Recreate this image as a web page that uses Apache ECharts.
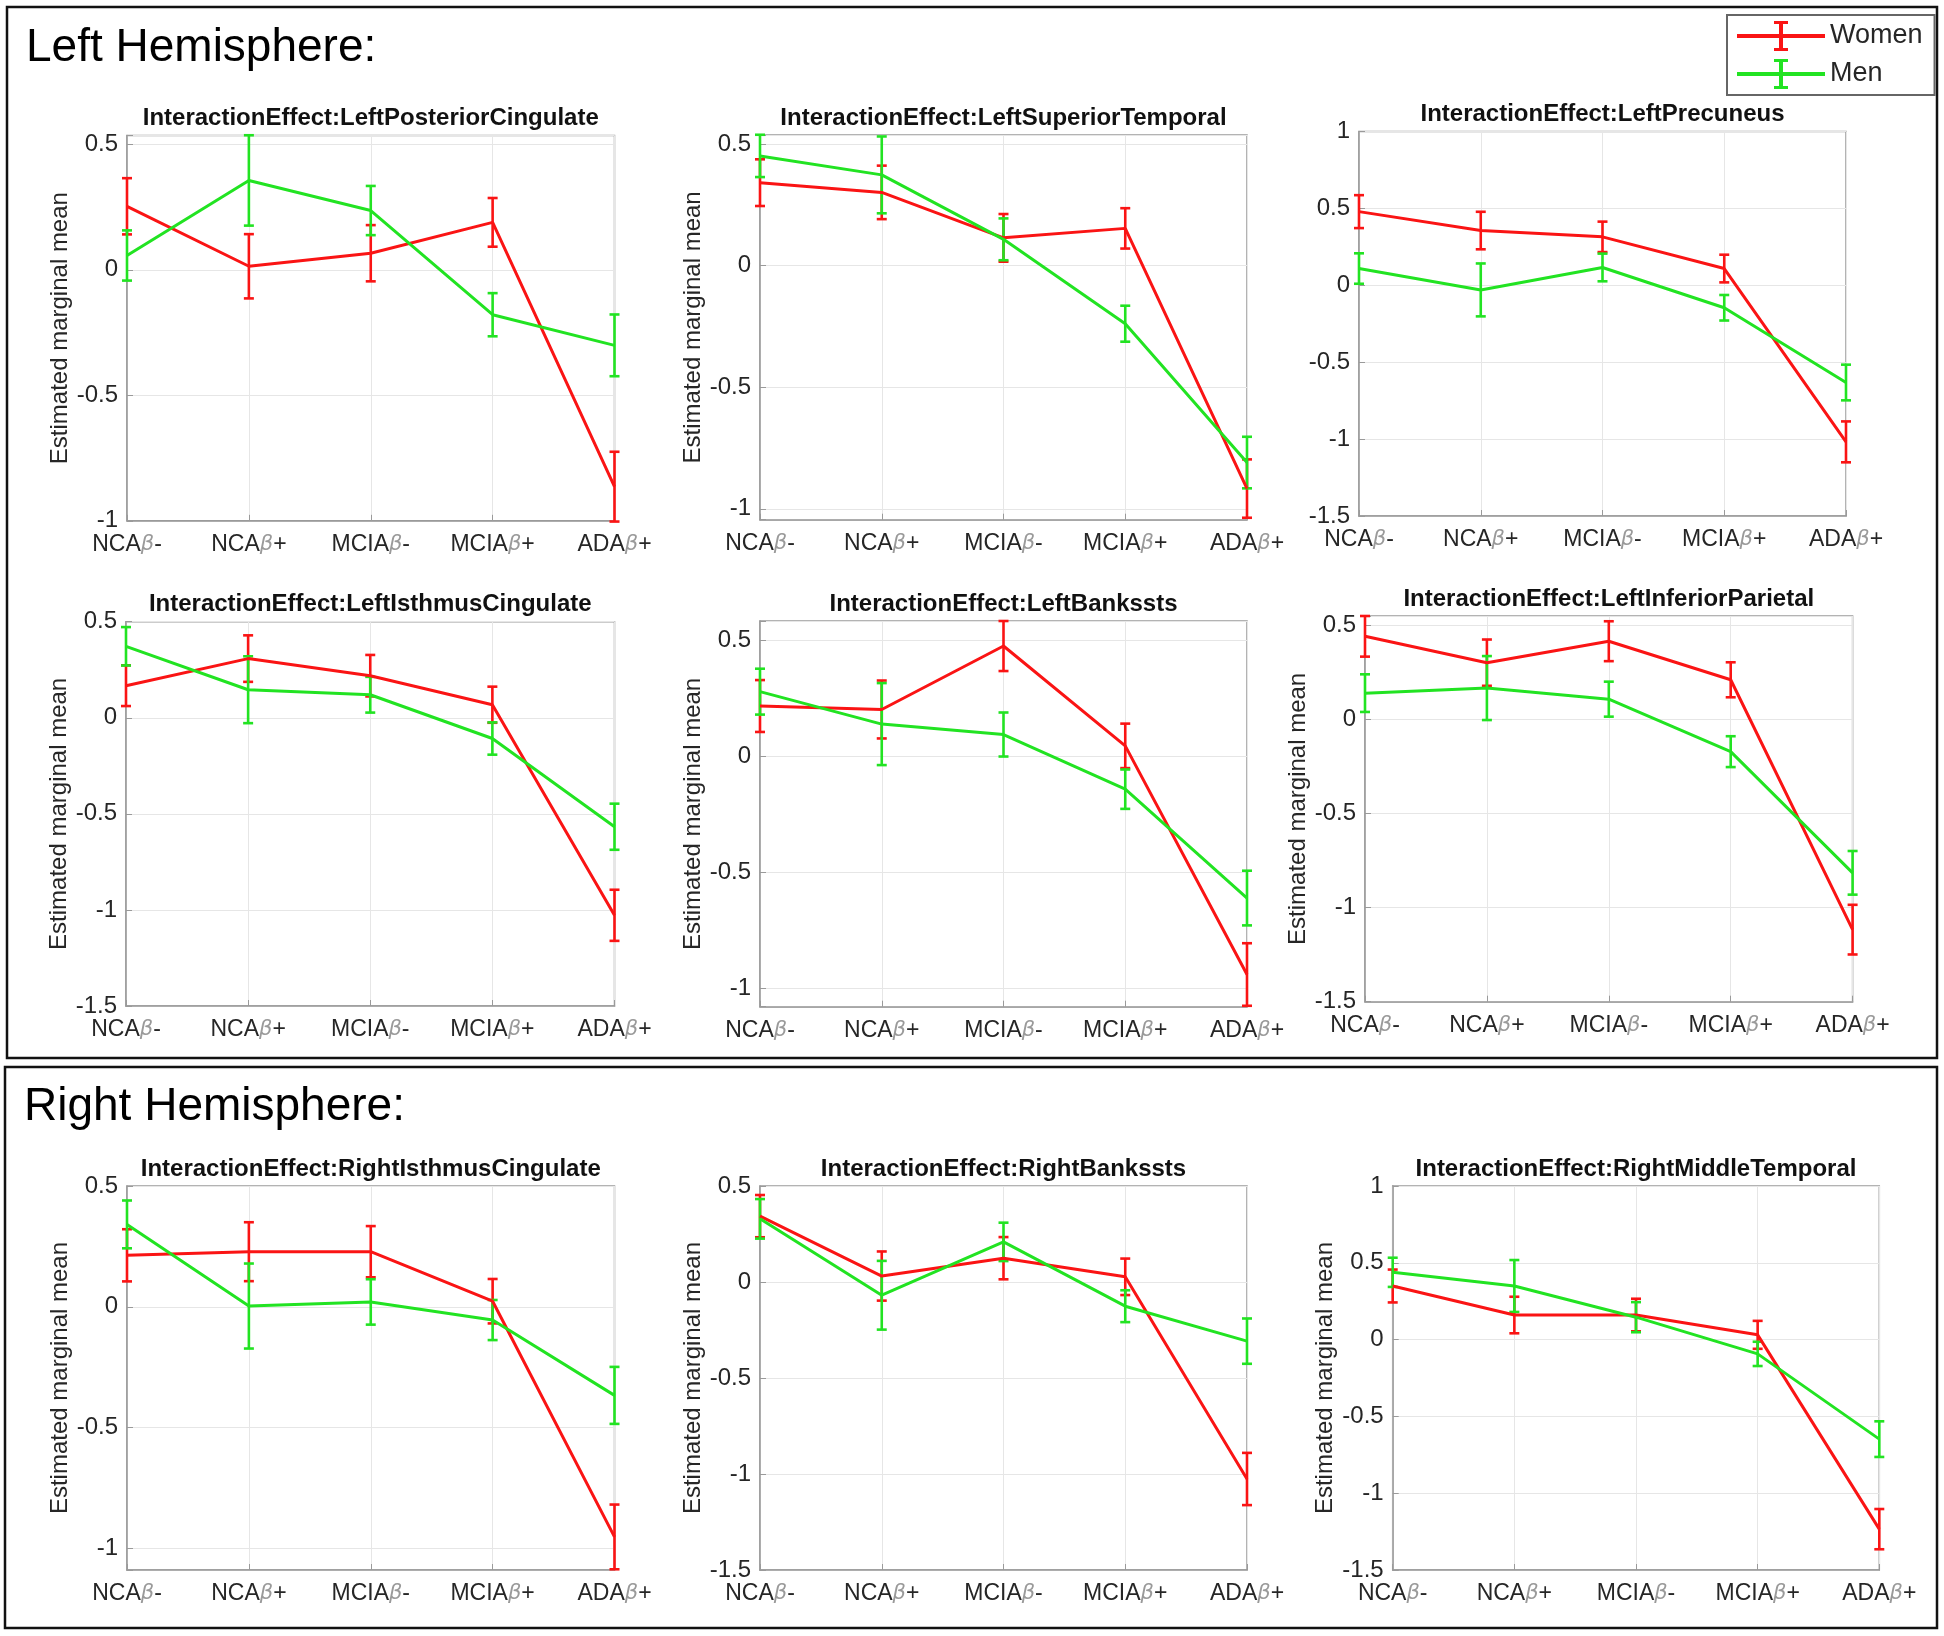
<!DOCTYPE html>
<html>
<head>
<meta charset="utf-8">
<script src="https://cdn.jsdelivr.net/npm/echarts@6/dist/echarts.min.js"></script>
<style>
  html, body { margin: 0; padding: 0; background: #fff; }
  #main { width: 1944px; height: 1636px; }
</style>
</head>
<body>
<div id="main"></div>
<script>
// groups on the x axis
var groups = ['NCAβ-', 'NCAβ+', 'MCIAβ-', 'MCIAβ+', 'ADAβ+'];
var seriesNames = ['Women', 'Men'];

// panel titles
var regions = [
  'InteractionEffect:LeftPosteriorCingulate',
  'InteractionEffect:LeftSuperiorTemporal',
  'InteractionEffect:LeftPrecuneus',
  'InteractionEffect:LeftIsthmusCingulate',
  'InteractionEffect:LeftBankssts',
  'InteractionEffect:LeftInferiorParietal',
  'InteractionEffect:RightIsthmusCingulate',
  'InteractionEffect:RightBankssts',
  'InteractionEffect:RightMiddleTemporal'
];

// y axis limits of each panel
var yMins = [-1, -1.045, -1.5, -1.5, -1.08, -1.5, -1.09, -1.5, -1.5];
var yMaxs = [0.535, 0.537, 1, 0.5, 0.585, 0.55, 0.5, 0.5, 1];

// estimated marginal means (and error bar half widths)
var lpcWomen = [0.253, 0.014, 0.066, 0.189, -0.864];
var lpcWomenErr = [0.112, 0.128, 0.112, 0.097, 0.139];
var lpcMen = [0.057, 0.356, 0.236, -0.179, -0.301];
var lpcMenErr = [0.100, 0.180, 0.098, 0.086, 0.123];

var lstWomen = [0.341, 0.301, 0.114, 0.153, -0.917];
var lstWomenErr = [0.096, 0.110, 0.098, 0.083, 0.120];
var lstMen = [0.451, 0.373, 0.108, -0.239, -0.810];
var lstMenErr = [0.087, 0.158, 0.086, 0.074, 0.106];

var lpWomen = [0.479, 0.356, 0.315, 0.109, -1.018];
var lpWomenErr = [0.107, 0.122, 0.099, 0.090, 0.133];
var lpMen = [0.109, -0.030, 0.116, -0.146, -0.632];
var lpMenErr = [0.099, 0.172, 0.090, 0.083, 0.116];

var licWomen = [0.167, 0.308, 0.219, 0.068, -1.028];
var licWomenErr = [0.106, 0.121, 0.108, 0.094, 0.133];
var licMen = [0.372, 0.146, 0.120, -0.108, -0.567];
var licMenErr = [0.100, 0.174, 0.093, 0.084, 0.120];

var lbWomen = [0.218, 0.203, 0.477, 0.046, -0.941];
var lbWomenErr = [0.112, 0.125, 0.108, 0.096, 0.135];
var lbMen = [0.280, 0.140, 0.095, -0.141, -0.611];
var lbMenErr = [0.099, 0.177, 0.095, 0.085, 0.118];

var lipWomen = [0.442, 0.302, 0.416, 0.211, -1.117];
var lipWomenErr = [0.108, 0.123, 0.106, 0.093, 0.132];
var lipMen = [0.140, 0.167, 0.108, -0.171, -0.815];
var lipMenErr = [0.100, 0.170, 0.093, 0.082, 0.116];

var ricWomen = [0.213, 0.228, 0.228, 0.023, -0.953];
var ricWomenErr = [0.108, 0.122, 0.106, 0.092, 0.134];
var ricMen = [0.341, 0.003, 0.020, -0.055, -0.367];
var ricMenErr = [0.099, 0.176, 0.094, 0.083, 0.118];

var rbWomen = [0.343, 0.031, 0.124, 0.027, -1.026];
var rbWomenErr = [0.110, 0.128, 0.110, 0.095, 0.136];
var rbMen = [0.329, -0.069, 0.209, -0.126, -0.308];
var rbMenErr = [0.103, 0.179, 0.100, 0.083, 0.118];

var rmtWomen = [0.349, 0.160, 0.160, 0.031, -1.234];
var rmtWomenErr = [0.107, 0.119, 0.106, 0.091, 0.131];
var rmtMen = [0.438, 0.349, 0.146, -0.093, -0.648];
var rmtMenErr = [0.095, 0.169, 0.098, 0.079, 0.116];

var womenMeans = [lpcWomen, lstWomen, lpWomen, licWomen, lbWomen, lipWomen, ricWomen, rbWomen, rmtWomen];
var womenErrs = [lpcWomenErr, lstWomenErr, lpWomenErr, licWomenErr, lbWomenErr, lipWomenErr, ricWomenErr, rbWomenErr, rmtWomenErr];
var menMeans = [lpcMen, lstMen, lpMen, licMen, lbMen, lipMen, ricMen, rbMen, rmtMen];
var menErrs = [lpcMenErr, lstMenErr, lpMenErr, licMenErr, lbMenErr, lipMenErr, ricMenErr, rbMenErr, rmtMenErr];

// plot boxes [left, top, right, bottom] in px
var boxes = [
  [127, 135.5, 614.5, 520.8], [760, 135, 1247, 519.7], [1359, 131.5, 1846, 516],
  [126, 621.7, 614.5, 1006], [760, 621, 1247, 1006.7], [1365, 616, 1852.6, 1001.7],
  [127, 1186, 614.5, 1570], [760, 1186, 1247, 1570], [1392.7, 1186, 1879.3, 1570]
];

var RED = '#fa1414';
var GREEN = '#22e322';
var FONT = 'Liberation Sans, Arial, sans-serif';
var boxColor = '#9a9a9a';

function errData(means, errs) {
  return means.map(function(m, i) {
    return [i, m - errs[i], m + errs[i]];
  });
}

function renderErr(params, api) {
  var top = api.coord([api.value(0), api.value(2)]);
  var bot = api.coord([api.value(0), api.value(1)]);
  var w = 5;
  var st = { stroke: api.visual('color'), lineWidth: 2.6 };
  return {
    type: 'group',
    children: [
      { type: 'line', shape: { x1: top[0], y1: top[1], x2: bot[0], y2: bot[1] }, style: st },
      { type: 'line', shape: { x1: top[0] - w, y1: top[1], x2: top[0] + w, y2: top[1] }, style: st },
      { type: 'line', shape: { x1: bot[0] - w, y1: bot[1], x2: bot[0] + w, y2: bot[1] }, style: st }
    ]
  };
}

function yFmt(v) {
  var r = Math.round(v * 2) / 2;
  if(Math.abs(v - r) > 1e-6) return '';
  return String(r);
}

function xFmt(v) {
  var p = v.split('β');
  return '{a|' + p[0] + '}{b|β}{a|' + p[1] + '}';
}

var grids = [], xAxes = [], yAxes = [], series = [], graphics = [];

boxes.forEach(function(b, i) {
  grids.push({
    left: b[0], top: b[1], width: b[2] - b[0], height: b[3] - b[1],
    show: true, borderColor: boxColor, borderWidth: 1.5, backgroundColor: '#fff'
  });
  xAxes.push({
    gridIndex: i, type: 'category', data: groups, boundaryGap: false,
    axisLine: { show: true, onZero: false, lineStyle: { color: boxColor, width: 1.5 } },
    axisTick: { show: true, inside: true, length: 6, lineStyle: { color: boxColor } },
    splitLine: { show: true, lineStyle: { color: '#e6e6e6', width: 1 } },
    axisLabel: {
      interval: 0, margin: 12, formatter: xFmt,
      rich: {
        a: { fontFamily: FONT, fontSize: 23, color: '#262626' },
        b: { fontFamily: 'DejaVu Sans, sans-serif', fontStyle: 'italic', fontSize: 21, color: '#9a9a9a' }
      }
    }
  });
  yAxes.push({
    gridIndex: i, type: 'value', min: yMins[i], max: yMaxs[i],
    minInterval: 0.5, maxInterval: 0.5,
    name: i === 2 ? '' : 'Estimated marginal mean',
    nameLocation: 'middle', nameGap: 55,
    nameTextStyle: { fontFamily: FONT, fontSize: 24, color: '#262626' },
    axisLine: { show: true, lineStyle: { color: boxColor, width: 1.5 } },
    axisTick: { show: true, inside: true, length: 6, lineStyle: { color: boxColor } },
    splitLine: { show: true, lineStyle: { color: '#e6e6e6', width: 1 } },
    axisLabel: { fontFamily: FONT, fontSize: 24, color: '#262626', margin: 9, formatter: yFmt }
  });
  [[womenMeans, womenErrs, RED], [menMeans, menErrs, GREEN]].forEach(function(s, k) {
    series.push({
      name: seriesNames[k], type: 'line', xAxisIndex: i, yAxisIndex: i,
      data: s[0][i], symbol: 'none', silent: true,
      itemStyle: { color: s[2] },
      lineStyle: { color: s[2], width: 3 }
    });
    series.push({
      name: seriesNames[k], type: 'custom', xAxisIndex: i, yAxisIndex: i,
      data: errData(s[0][i], s[1][i]), renderItem: renderErr,
      encode: { x: 0, y: [1, 2] }, silent: true,
      itemStyle: { color: s[2] }
    });
  });
  graphics.push({
    type: 'text', x: (b[0] + b[2]) / 2, y: b[1] - 17,
    style: {
      text: regions[i], fontFamily: FONT, fontWeight: 'bold', fontSize: 24,
      fill: '#111', textAlign: 'center', textVerticalAlign: 'middle'
    }
  });
});

// hemisphere frames and headings
graphics.push({ type: 'rect', shape: { x: 7, y: 7, width: 1930, height: 1051 }, style: { fill: 'none', stroke: '#111', lineWidth: 2.5 } });
graphics.push({ type: 'rect', shape: { x: 5, y: 1067, width: 1932, height: 561 }, style: { fill: 'none', stroke: '#111', lineWidth: 2.5 } });
graphics.push({ type: 'text', x: 26, y: 48, style: { text: 'Left Hemisphere:', fontFamily: FONT, fontSize: 46, fill: '#000', textVerticalAlign: 'middle' } });
graphics.push({ type: 'text', x: 24, y: 1107, style: { text: 'Right Hemisphere:', fontFamily: FONT, fontSize: 46, fill: '#000', textVerticalAlign: 'middle' } });

var chart = echarts.init(document.getElementById('main'));
chart.setOption({
  animation: false,
  backgroundColor: '#fff',
  legend: {
    data: seriesNames, orient: 'vertical', left: 1727, top: 15,
    padding: [6, 12, 6, 10], itemGap: 8, itemWidth: 88, itemHeight: 30,
    borderColor: '#666', borderWidth: 2, backgroundColor: '#fff',
    icon: 'path://M0,13H88V17H0Z M42,1.5H46V28.5H42Z M37,0H51V3H37Z M37,27H51V30H37Z',
    textStyle: { fontFamily: FONT, fontSize: 27, color: '#262626' }
  },
  grid: grids,
  xAxis: xAxes,
  yAxis: yAxes,
  series: series,
  graphic: graphics
});
</script>
</body>
</html>
